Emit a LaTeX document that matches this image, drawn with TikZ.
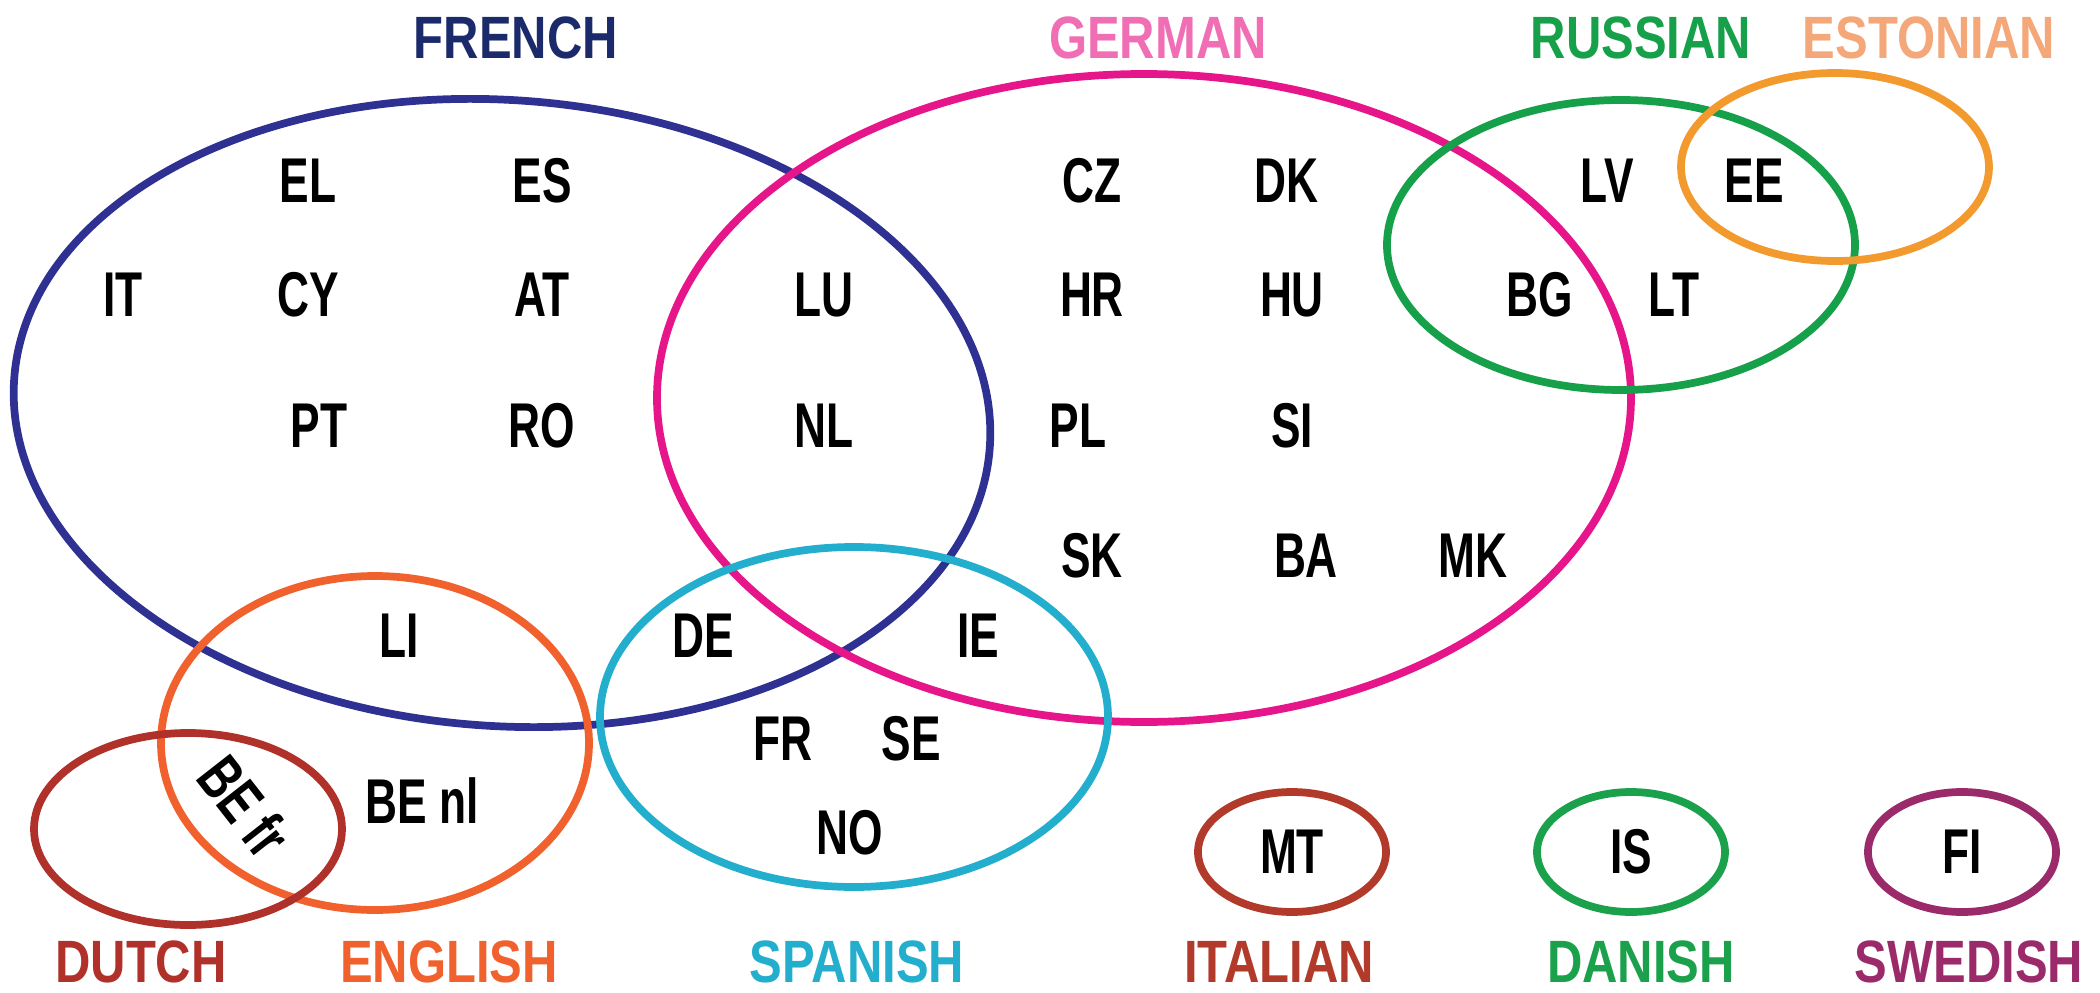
\documentclass[tikz,border=0pt]{standalone}
\usepackage{fontspec}
\newfontfamily\codefont[FakeStretch=0.7]{Liberation Sans}
\newfontfamily\langfont[FakeStretch=0.82]{Liberation Sans}
\definecolor{frenchc}{HTML}{2E3192}
\definecolor{frenchl}{HTML}{1B2A6B}
\definecolor{germanc}{HTML}{E6168A}
\definecolor{germanl}{HTML}{F06EB4}
\definecolor{russianc}{HTML}{16A04A}
\definecolor{estonianc}{HTML}{F39A2E}
\definecolor{estonianl}{HTML}{F4A779}
\definecolor{englishc}{HTML}{F0612D}
\definecolor{dutchc}{HTML}{B0302A}
\definecolor{spanishc}{HTML}{22AECC}
\definecolor{italianc}{HTML}{B23A2A}
\definecolor{danishc}{HTML}{1BA14B}
\definecolor{swedishc}{HTML}{9B2A6A}
\begin{document}
\begin{tikzpicture}[
    set/.style={line width=2.2pt},
    code/.style={font=\codefont\bfseries\fontsize{18}{18}\selectfont, inner sep=1pt},
    lang/.style={font=\langfont\bfseries\fontsize{17}{17}\selectfont, inner sep=1pt}]
    \useasboundingbox (0,0) rectangle (21,-9.93);

    % language sets
    \draw[set, frenchc] (5.02,-4.13) ellipse [x radius=4.89, y radius=3.13, rotate=-4];
    \draw[set, germanc] (11.44,-3.98) ellipse [x radius=4.87, y radius=3.24];
    \draw[set, russianc] (16.21,-2.45) ellipse [x radius=2.34, y radius=1.45];
    \draw[set, estonianc] (18.35,-1.67) ellipse [x radius=1.54, y radius=0.94];
    \draw[set, englishc] (3.75,-7.43) ellipse [x radius=2.14, y radius=1.67];
    \draw[set, dutchc] (1.88,-8.29) ellipse [x radius=1.54, y radius=0.96];
    \draw[set, spanishc] (8.54,-7.17) ellipse [x radius=2.54, y radius=1.70];
    \draw[set, italianc] (12.92,-8.52) ellipse [x radius=0.94, y radius=0.60];
    \draw[set, danishc] (16.31,-8.52) ellipse [x radius=0.94, y radius=0.60];
    \draw[set, swedishc] (19.62,-8.52) ellipse [x radius=0.94, y radius=0.60];

    % language names
    \node[lang, text=frenchl] (french) at (5.16,-0.38) {FRENCH};
    \node[lang, text=germanl] (german) at (11.58,-0.38) {GERMAN};
    \node[lang, text=russianc] (russian) at (16.41,-0.38) {RUSSIAN};
    \node[lang, text=estonianl] (estonian) at (19.29,-0.38) {ESTONIAN};
    \node[lang, text=dutchc] (dutch) at (1.41,-9.62) {DUTCH};
    \node[lang, text=englishc] (english) at (4.49,-9.62) {ENGLISH};
    \node[lang, text=spanishc] (spanish) at (8.57,-9.62) {SPANISH};
    \node[lang, text=italianc] (italian) at (12.79,-9.62) {ITALIAN};
    \node[lang, text=danishc] (danish) at (16.41,-9.62) {DANISH};
    \node[lang, text=swedishc] (swedish) at (19.69,-9.62) {SWEDISH};

    % countries
    \node[code] (el) at (3.08,-1.81) {EL};
    \node[code] (es) at (5.42,-1.81) {ES};
    \node[code] (cz) at (10.92,-1.81) {CZ};
    \node[code] (dk) at (12.86,-1.81) {DK};
    \node[code] (lv) at (16.07,-1.81) {LV};
    \node[code] (ee) at (17.54,-1.81) {EE};
    \node[code] (it) at (1.23,-2.95) {IT};
    \node[code] (cy) at (3.08,-2.95) {CY};
    \node[code] (at) at (5.42,-2.95) {AT};
    \node[code] (lu) at (8.24,-2.95) {LU};
    \node[code] (hr) at (10.92,-2.95) {HR};
    \node[code] (hu) at (12.92,-2.95) {HU};
    \node[code] (bg) at (15.40,-2.95) {BG};
    \node[code] (lt) at (16.74,-2.95) {LT};
    \node[code] (pt) at (3.19,-4.26) {PT};
    \node[code] (ro) at (5.42,-4.26) {RO};
    \node[code] (nl) at (8.24,-4.26) {NL};
    \node[code] (pl) at (10.78,-4.26) {PL};
    \node[code] (si) at (12.92,-4.26) {SI};
    \node[code] (sk) at (10.92,-5.56) {SK};
    \node[code] (ba) at (13.06,-5.56) {BA};
    \node[code] (mk) at (14.73,-5.56) {MK};
    \node[code] (li) at (3.99,-6.36) {LI};
    \node[code] (de) at (7.03,-6.36) {DE};
    \node[code] (ie) at (9.78,-6.36) {IE};
    \node[code] (fr) at (7.83,-7.39) {FR};
    \node[code] (se) at (9.11,-7.39) {SE};
    \node[code, rotate=-52] (befr) at (2.45,-8.06) {BE fr};
    \node[code] (benl) at (4.22,-8.01) {BE nl};
    \node[code] (no) at (8.50,-8.33) {NO};
    \node[code] (mt) at (12.92,-8.52) {MT};
    \node[code] (is) at (16.31,-8.52) {IS};
    \node[code] (fi) at (19.62,-8.52) {FI};
\end{tikzpicture}
\end{document}
